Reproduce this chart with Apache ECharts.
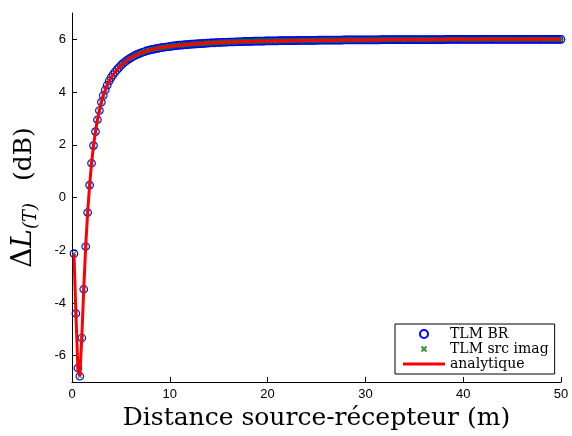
<!DOCTYPE html>
<html><head><meta charset="utf-8">
<script src="https://cdn.jsdelivr.net/npm/echarts@6/dist/echarts.min.js"></script>
<style>html,body{margin:0;padding:0;background:#fff}#c{width:572px;height:436px}</style>
</head><body><div id="c"></div>
<script>
// Tick labels
const xTicks = [0, 10, 20, 30, 40, 50];
const yTicks = [-6, -4, -2, 0, 2, 4, 6];
const seriesNames = ['TLM BR', 'TLM src imag', 'analytique'];

const distStart = 0.2;
const distStep = 0.2;

// ΔL(T) (dB), one value per sample
const tlmBR = [
 -2.13,-4.40,-6.47,-6.78,-5.33,-3.48,-1.86,-0.57,0.47,1.30,
 1.97,2.50,2.95,3.30,3.62,3.87,4.08,4.26,4.42,4.55,
 4.66,4.76,4.85,4.93,5.01,5.08,5.14,5.20,5.25,5.30,
 5.34,5.38,5.42,5.45,5.48,5.51,5.53,5.56,5.58,5.60,
 5.62,5.63,5.65,5.66,5.68,5.69,5.70,5.71,5.72,5.73,
 5.74,5.75,5.76,5.77,5.78,5.78,5.79,5.80,5.80,5.81,
 5.82,5.82,5.83,5.83,5.84,5.84,5.85,5.85,5.86,5.86,
 5.87,5.87,5.87,5.88,5.88,5.88,5.89,5.89,5.89,5.90,
 5.90,5.90,5.90,5.91,5.91,5.91,5.91,5.92,5.92,5.92,
 5.92,5.92,5.93,5.93,5.93,5.93,5.93,5.93,5.94,5.94,
 5.94,5.94,5.94,5.94,5.94,5.95,5.95,5.95,5.95,5.95,
 5.95,5.95,5.95,5.95,5.96,5.96,5.96,5.96,5.96,5.96,
 5.96,5.96,5.96,5.96,5.96,5.97,5.97,5.97,5.97,5.97,
 5.97,5.97,5.97,5.97,5.97,5.97,5.97,5.97,5.98,5.98,
 5.98,5.98,5.98,5.98,5.98,5.98,5.98,5.98,5.98,5.98,
 5.98,5.98,5.98,5.98,5.98,5.98,5.98,5.99,5.99,5.99,
 5.99,5.99,5.99,5.99,5.99,5.99,5.99,5.99,5.99,5.99,
 5.99,5.99,5.99,5.99,5.99,5.99,5.99,5.99,5.99,5.99,
 5.99,5.99,5.99,5.99,5.99,5.99,5.99,5.99,5.99,5.99,
 6.00,6.00,6.00,6.00,6.00,6.00,6.00,6.00,6.00,6.00,
 6.00,6.00,6.00,6.00,6.00,6.00,6.00,6.00,6.00,6.00,
 6.00,6.00,6.00,6.00,6.00,6.00,6.00,6.00,6.00,6.00,
 6.00,6.00,6.00,6.00,6.00,6.00,6.00,6.00,6.00,6.00,
 6.00,6.00,6.00,6.00,6.00,6.00,6.00,6.00,6.00,6.00,
 6.00,6.00,6.00,6.00,6.00,6.00,6.00,6.00,6.00,6.00
];
// The three curves coincide in the picture
const tlmSrcImag = tlmBR;
const analytique = tlmBR;

const distance = tlmBR.map((_, i) => +(distStart + distStep * i).toFixed(1));
const toPts = vals => vals.map((v, i) => [distance[i], v]);

const xMark = 'path://M-3,-3M0,0L10,10M10,0L0,10M13,13';
const lineIcon = 'path://M0,0M0,2.5L42,2.5L42,5.5L0,5.5ZM42,8';

const chart = echarts.init(document.getElementById('c'), null, {renderer: 'canvas'});
chart.setOption({
  animation: false,
  backgroundColor: '#fff',
  grid: {left: 72, right: 11, top: 13, bottom: 54},
  xAxis: {
    type: 'value', min: 0, max: 50, interval: 10,
    axisLine: {show: true, onZero: false, lineStyle: {color: '#000', width: 1}},
    axisTick: {show: true, inside: true, length: 5, customValues: xTicks, lineStyle: {color: '#000'}},
    axisLabel: {customValues: xTicks, color: '#000', fontFamily: 'Liberation Sans', fontSize: 13, margin: 6},
    splitLine: {show: false},
    name: 'Distance source-récepteur (m)', nameLocation: 'middle', nameGap: 14,
    nameTextStyle: {fontFamily: 'DejaVu Serif', fontSize: 25, color: '#000', verticalAlign: 'top'}
  },
  yAxis: {
    type: 'value', min: -7, max: 7,
    axisLine: {show: true, onZero: false, lineStyle: {color: '#000', width: 1}},
    axisTick: {show: true, inside: true, length: 5, customValues: yTicks, lineStyle: {color: '#000'}},
    axisLabel: {customValues: yTicks, color: '#000', fontFamily: 'Liberation Sans', fontSize: 13, margin: 6},
    splitLine: {show: false},
    name: '{d|Δ}{l|L}{s|(T)}{g|}{n|(dB)}', nameLocation: 'middle', nameGap: 32, nameRotate: 90,
    nameTextStyle: {
      color: '#000',
      rich: {
        d: {fontFamily: 'DejaVu Serif', fontSize: 28, lineHeight: 32, color: '#000'},
        l: {fontFamily: 'DejaVu Serif', fontStyle: 'italic', fontSize: 28, lineHeight: 32, color: '#000'},
        s: {fontFamily: 'DejaVu Serif', fontStyle: 'italic', fontSize: 18, lineHeight: 19, verticalAlign: 'bottom', color: '#000'},
        g: {width: 22},
        n: {fontFamily: 'DejaVu Serif', fontSize: 25, lineHeight: 32, color: '#000'}
      }
    }
  },
  legend: {
    orient: 'vertical', left: 395, top: 324,
    padding: [3, 6, 3, 8], itemGap: 1, itemWidth: 42, itemHeight: 8,
    backgroundColor: '#fff', borderColor: '#000', borderWidth: 1, borderRadius: 0,
    textStyle: {fontFamily: 'DejaVu Serif', fontSize: 14, lineHeight: 14, color: '#000'},
    data: [
      {name: seriesNames[0], icon: 'circle'},
      {name: seriesNames[1], icon: xMark},
      {name: seriesNames[2], icon: lineIcon}
    ]
  },
  series: [
    {
      name: seriesNames[0], type: 'scatter', data: toPts(tlmBR),
      symbol: 'circle', symbolSize: 7.5,
      itemStyle: {color: 'rgba(0,0,0,0)', borderColor: '#0000ff', borderWidth: 1.2, opacity: 1}
    },
    {
      name: seriesNames[1], type: 'scatter', data: toPts(tlmSrcImag),
      symbol: xMark, symbolSize: 8,
      itemStyle: {color: '#008000', borderColor: '#008000', borderWidth: 1.1}
    },
    {
      name: seriesNames[2], type: 'line', data: toPts(analytique),
      symbol: 'none', showSymbol: false,
      lineStyle: {color: '#ff0000', width: 3},
      itemStyle: {color: '#ff0000', borderWidth: 0}
    }
  ]
});
</script>
</body></html>
